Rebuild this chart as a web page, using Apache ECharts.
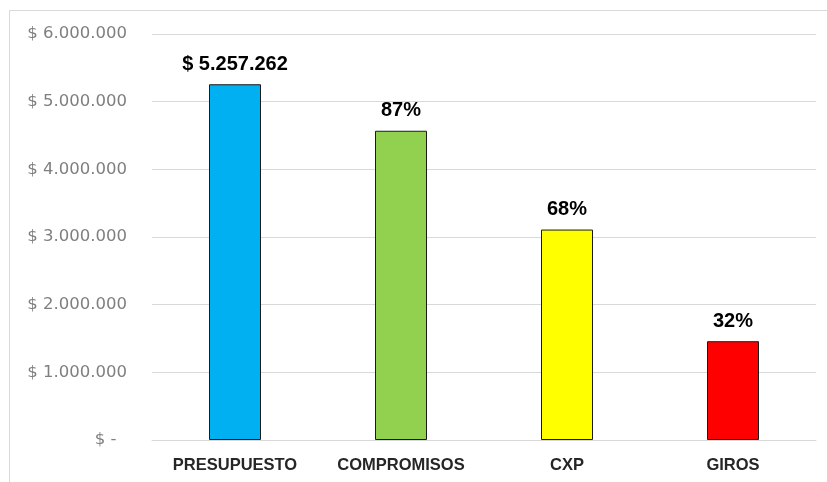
<!DOCTYPE html>
<html>
<head>
<meta charset="utf-8">
<script src="https://cdn.jsdelivr.net/npm/echarts@6/dist/echarts.min.js"></script>
<style>
  html, body { margin: 0; padding: 0; background: #fff; }
  #chart { width: 827px; height: 482px; }
</style>
</head>
<body>
<div id="chart"></div>
<script>
// datos
const categories = ['PRESUPUESTO', 'COMPROMISOS', 'CXP', 'GIROS']
const values = [5257262, 4570000, 3110000, 1460000]
const valueLabels = ['$ 5.257.262', '87%', '68%', '32%']
const barColors = ['#00B0F0', '#92D050', '#FFFF00', '#FF0000']

function money (v) {
  if (v === 0) return '$ -  '
  return '$ ' + String(v).replace(/\B(?=(\d{3})+(?!\d))/g, '.')
}

const chart = echarts.init(document.getElementById('chart'))
const option = {
  animation: false,
  backgroundColor: '#fff',
  graphic: [{
    type: 'rect',
    shape: { x: 9.5, y: 10.5, width: 840, height: 500 },
    style: { fill: 'none', stroke: '#d9d9d9', lineWidth: 1 }
  }],
  grid: { left: 152, right: 11, top: 34, bottom: 42 },
  xAxis: {
    type: 'category',
    data: categories,
    axisTick: { show: false },
    axisLine: { lineStyle: { color: '#d9d9d9' } },
    axisLabel: {
      margin: 17,
      color: '#262626',
      fontFamily: 'Liberation Sans',
      fontWeight: 'bold',
      fontSize: 16.5
    }
  },
  yAxis: {
    type: 'value',
    min: 0,
    max: 6000000,
    interval: 1000000,
    axisLine: { show: false },
    axisTick: { show: false },
    splitLine: { lineStyle: { color: '#d9d9d9' } },
    axisLabel: {
      margin: 25,
      color: '#7f7f7f',
      fontFamily: 'DejaVu Sans',
      fontSize: 16.5,
      formatter: money
    }
  },
  series: [{
    type: 'bar',
    barWidth: 52,
    data: values.map((v, i) => ({
      value: v,
      itemStyle: { color: barColors[i] }
    })),
    itemStyle: { borderColor: '#1a1a1a', borderWidth: 1 },
    label: {
      show: true,
      position: 'top',
      distance: 10,
      color: '#000',
      fontFamily: 'Liberation Sans',
      fontWeight: 'bold',
      fontSize: 20,
      formatter: p => valueLabels[p.dataIndex]
    }
  }]
}
chart.setOption(option)
</script>
</body>
</html>
